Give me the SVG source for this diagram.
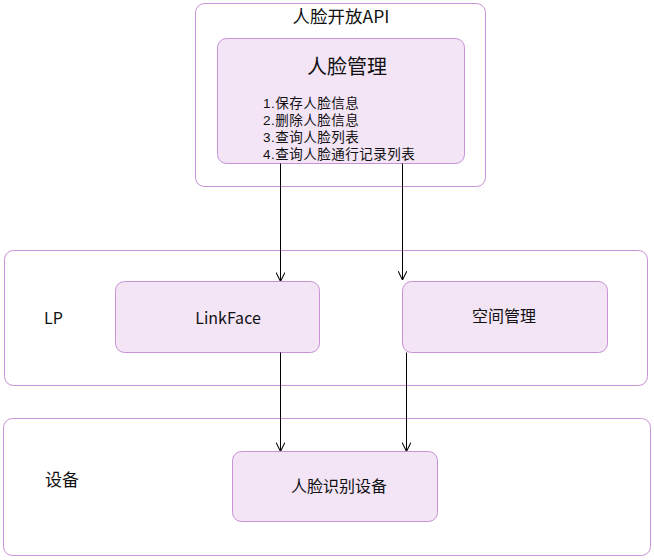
<svg xmlns="http://www.w3.org/2000/svg" width="654" height="560" viewBox="0 0 654 560">
<defs>
<style>
.grp{fill:#ffffff;stroke:#c793d6;stroke-width:1}
.node{fill:#f3e4f6;stroke:#c793d6;stroke-width:1}
text{font-family:"Noto Sans CJK SC","Noto Sans",sans-serif;fill:#111}
text.item{font-family:"Liberation Sans","Noto Sans CJK SC",sans-serif;font-size:13.5px;letter-spacing:0.5px}
.edge{stroke:#000;stroke-width:1;fill:none;marker-end:url(#arr)}
</style>
<marker id="arr" viewBox="0 0 10 10" refX="9" refY="5" markerWidth="9" markerHeight="9" orient="auto" markerUnits="userSpaceOnUse">
<path d="M0,0 L10,5 L0,10" fill="none" stroke="#000" stroke-width="1.2"/>
</marker>
</defs>
<rect width="654" height="560" fill="#fff"/>
<g id="api">
<rect class="grp" x="195.5" y="3.5" width="290" height="183" rx="9"/>
<text x="341" y="23" font-size="17.5" text-anchor="middle">人脸开放API</text>
</g>
<g id="face-mgmt">
<rect class="node" x="217.5" y="38.5" width="247" height="125" rx="9"/>
<text x="347" y="74" font-size="20" text-anchor="middle">人脸管理</text>
<text class="item" x="263" y="107.5">1.保存人脸信息</text>
<text class="item" x="263" y="124.5">2.删除人脸信息</text>
<text class="item" x="263" y="141.5">3.查询人脸列表</text>
<text class="item" x="263" y="158.5">4.查询人脸通行记录列表</text>
</g>
<g id="lp">
<rect class="grp" x="4.5" y="250.5" width="643" height="135" rx="9"/>
<text x="44" y="324" font-size="16">LP</text>
</g>
<g id="linkface">
<rect class="node" x="115.5" y="281.5" width="204" height="71" rx="9"/>
<text x="228" y="324" font-size="16" text-anchor="middle">LinkFace</text>
</g>
<g id="space-mgmt">
<rect class="node" x="402.5" y="281.5" width="205" height="71" rx="9"/>
<text x="504" y="322" font-size="16" text-anchor="middle">空间管理</text>
</g>
<g id="device">
<rect class="grp" x="3.5" y="418.5" width="647" height="137" rx="9"/>
<text x="45" y="486" font-size="17">设备</text>
</g>
<g id="face-device">
<rect class="node" x="232.5" y="451.5" width="205" height="70" rx="9"/>
<text x="339" y="492" font-size="16" text-anchor="middle">人脸识别设备</text>
</g>
<g id="connectors">
<path class="edge" d="M280.5,163.5 V280.5"/>
<path class="edge" d="M402.5,163.5 V279"/>
<path class="edge" d="M280.5,352.5 V450.5"/>
<path class="edge" d="M406.5,352.5 V450.5"/>
</g>
</svg>
